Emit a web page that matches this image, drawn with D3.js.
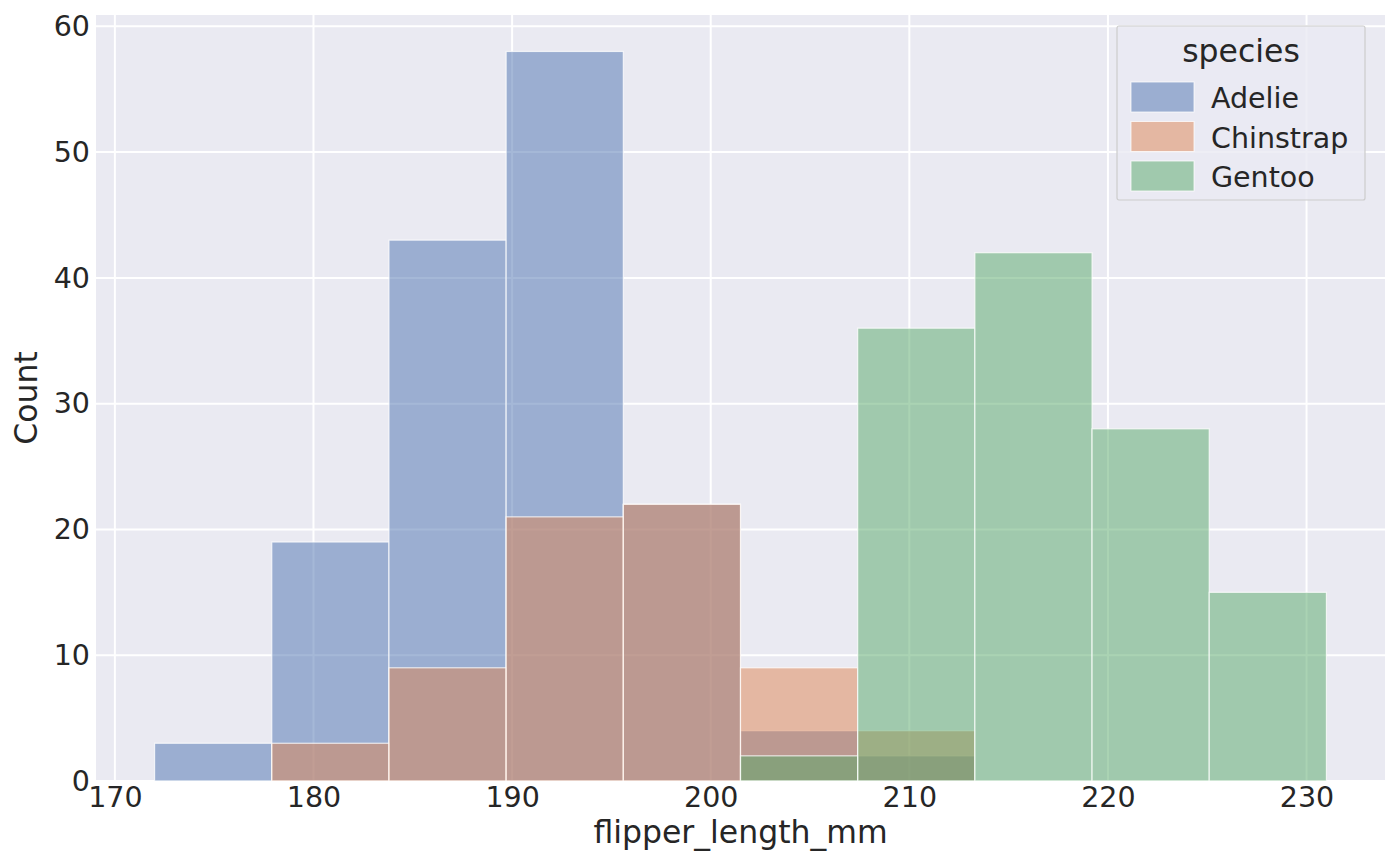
<!DOCTYPE html>
<html>
<head>
<meta charset="utf-8">
<script src="https://cdn.jsdelivr.net/npm/d3@7"></script>
<style>
  body { margin: 0; background: #fff; }
  text { font-family: "DejaVu Sans", sans-serif; fill: #262626; }
</style>
</head>
<body>
<script>
"use strict";

// histogram bins (flipper_length_mm), 10 equal bins
const binEdges = [172, 177.9, 183.8, 189.7, 195.6, 201.5, 207.4, 213.3, 219.2, 225.1, 231];
const species = ["Adelie", "Chinstrap", "Gentoo"];
const adelieCounts    = [3, 19, 43, 58, 22, 4, 2, 0, 0, 0];
const chinstrapCounts = [0, 3, 9, 21, 22, 9, 4, 0, 0, 0];
const gentooCounts    = [0, 0, 0, 0, 0, 2, 36, 42, 28, 15];
const xTicks = [170, 180, 190, 200, 210, 220, 230];
const yTicks = [0, 10, 20, 30, 40, 50, 60];

const counts = { Adelie: adelieCounts, Chinstrap: chinstrapCounts, Gentoo: gentooCounts };
const colors = { Adelie: "#4c72b0", Chinstrap: "#dd8452", Gentoo: "#55a868" };

const W = 1400, H = 866;
const margin = { top: 15, right: 15, bottom: 85, left: 96 };
const width = W - margin.left - margin.right;
const height = H - margin.top - margin.bottom;
const tickFont = "28.5px";
const labelFont = "31.5px";

const svg = d3.select("body").append("svg")
    .attr("width", W)
    .attr("height", H);

const g = svg.append("g")
    .attr("transform", `translate(${margin.left}, ${margin.top})`);

const pad = (binEdges[binEdges.length - 1] - binEdges[0]) * 0.05;
const xScale = d3.scaleLinear()
    .domain([binEdges[0] - pad, binEdges[binEdges.length - 1] + pad])
    .range([0, width]);
const yMax = d3.max([adelieCounts, chinstrapCounts, gentooCounts].flat()) * 1.05;
const yScale = d3.scaleLinear()
    .domain([0, yMax])
    .range([height, 0]);

// background + grid
g.append("rect")
    .attr("width", width)
    .attr("height", height)
    .attr("fill", "#eaeaf2");

g.append("g")
    .selectAll("line")
    .data(xTicks)
    .join("line")
    .attr("x1", d => xScale(d)).attr("x2", d => xScale(d))
    .attr("y1", 0).attr("y2", height)
    .attr("stroke", "#fff").attr("stroke-width", 2);

g.append("g")
    .selectAll("line")
    .data(yTicks)
    .join("line")
    .attr("x1", 0).attr("x2", width)
    .attr("y1", d => yScale(d)).attr("y2", d => yScale(d))
    .attr("stroke", "#fff").attr("stroke-width", 2);

// bars, layered: later species drawn on top
species.forEach(sp => {
    const rows = counts[sp].map((c, i) => ({ x0: binEdges[i], x1: binEdges[i + 1], c }))
        .filter(d => d.c > 0);
    g.append("g")
        .attr("class", "bars")
        .selectAll("rect")
        .data(rows)
        .join("rect")
        .attr("x", d => xScale(d.x0))
        .attr("width", d => xScale(d.x1) - xScale(d.x0))
        .attr("y", d => yScale(d.c))
        .attr("height", d => yScale(0) - yScale(d.c))
        .attr("fill", colors[sp])
        .attr("fill-opacity", 0.5)
        .attr("stroke", "#fff")
        .attr("stroke-opacity", 0.75)
        .attr("stroke-width", 1.2);
});

// axes
const xAxis = g.append("g")
    .attr("transform", `translate(0, ${height})`)
    .call(d3.axisBottom(xScale).tickValues(xTicks).tickSize(0).tickPadding(6));
const yAxis = g.append("g")
    .call(d3.axisLeft(yScale).tickValues(yTicks).tickSize(0).tickPadding(6));
[xAxis, yAxis].forEach(a => {
    a.select(".domain").remove();
    a.selectAll("text")
        .attr("fill", "#262626")
        .style("font-family", "DejaVu Sans, sans-serif")
        .style("font-size", tickFont);
});

svg.append("text")
    .attr("x", margin.left + width / 2)
    .attr("y", 843)
    .attr("text-anchor", "middle")
    .style("font-size", labelFont)
    .text("flipper_length_mm");

svg.append("text")
    .attr("transform", `translate(37, ${margin.top + height / 2}) rotate(-90)`)
    .attr("text-anchor", "middle")
    .style("font-size", labelFont)
    .text("Count");

// legend
const legend = svg.append("g")
    .attr("transform", "translate(1117, 26)");
legend.append("rect")
    .attr("width", 248)
    .attr("height", 174)
    .attr("rx", 2)
    .attr("fill", "#eaeaf2")
    .attr("fill-opacity", 0.8)
    .attr("stroke", "#cccccc")
    .attr("stroke-width", 1.2);
legend.append("text")
    .attr("x", 124)
    .attr("y", 36)
    .attr("text-anchor", "middle")
    .style("font-size", labelFont)
    .text("species");
const items = legend.selectAll("g.item")
    .data(species)
    .join("g")
    .attr("class", "item")
    .attr("transform", (d, i) => `translate(14, ${56 + i * 39.5})`);
items.append("rect")
    .attr("width", 63)
    .attr("height", 30)
    .attr("fill", d => colors[d])
    .attr("fill-opacity", 0.5)
    .attr("stroke", "#fff")
    .attr("stroke-opacity", 0.75);
items.append("text")
    .attr("x", 80)
    .attr("y", 26)
    .style("font-size", tickFont)
    .text(d => d);
</script>
</body>
</html>
